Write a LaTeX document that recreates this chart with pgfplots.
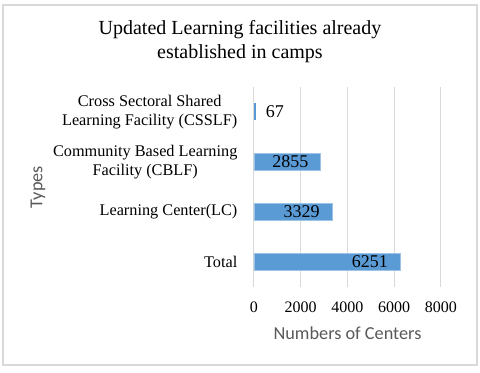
\documentclass[border=0pt]{standalone}
\usepackage{pgfplots}
\pgfplotsset{compat=1.18}
\usepackage{fontspec}
\setmainfont{Liberation Serif}
\newfontfamily\calibri{Carlito}
\definecolor{barblue}{HTML}{5B9BD5}
\definecolor{gridgray}{HTML}{D9D9D9}
\definecolor{labgray}{HTML}{595959}
\begin{document}
\begin{tikzpicture}
% page 480x373 px, 1px = 0.75pt
\path (0,0) rectangle (360pt,279.75pt);
\draw[gridgray, line width=1pt] (2.25pt,6pt) rectangle (357.75pt,276pt);
\node[align=center, font=\fontsize{15}{18}\selectfont] at (180pt,248.25pt)
  {Updated Learning facilities already\\established in camps};
\begin{axis}[
    at={(190.5pt,64.5pt)}, anchor=south west,
    scale only axis, width=140.25pt, height=150pt,
    xbar, bar width=12.75pt, bar shift=0pt,
    xmin=0, xmax=8000, xtick={0,2000,4000,6000,8000},
    ymin=-0.5, ymax=3.5, ytick={0,1,2,3},
    yticklabels={Total, Learning Center(LC),
      {Community Based Learning\\Facility (CBLF)},
      {Cross Sectoral Shared\\Learning Facility (CSSLF)}},
    yticklabel style={align=center, anchor=east, inner sep=0pt, xshift=-8pt,
      font=\fontsize{12.2}{14.25}\selectfont},
    xticklabel style={anchor=north, inner sep=0pt, yshift=-11pt, font=\fontsize{12}{14}\selectfont},
    /pgf/number format/assume math mode=true,
    /pgf/number format/1000 sep={},
    axis line style={draw=none}, major tick style={draw=none},
    xmajorgrids, grid style={gridgray, line width=0.75pt},
    xlabel={Numbers of Centers},
    xlabel style={at={(axis description cs:0.5,0)}, anchor=center, yshift=-34.5pt,
      font=\calibri\fontsize{13.7}{15}\selectfont, text=labgray},
    ylabel={Types},
    ylabel style={at={(axis description cs:-1.155,0.5)}, anchor=center,
      font=\calibri\fontsize{13.7}{15}\selectfont, text=labgray},
    nodes near coords,
    nodes near coords style={font=\fontsize{13.5}{15}\selectfont, text=black, inner sep=0pt},
]
\addplot[fill=barblue, draw=barblue!60!white, line width=0.4pt,
  every node near coord/.append style={anchor=east, xshift=-9pt}]
  coordinates {(6251,0) (3329,1) (2855,2)};
\addplot[fill=barblue, draw=none,
  every node near coord/.append style={anchor=west, xshift=7.5pt}]
  coordinates {(67,3)};
\end{axis}
\end{tikzpicture}
\end{document}
